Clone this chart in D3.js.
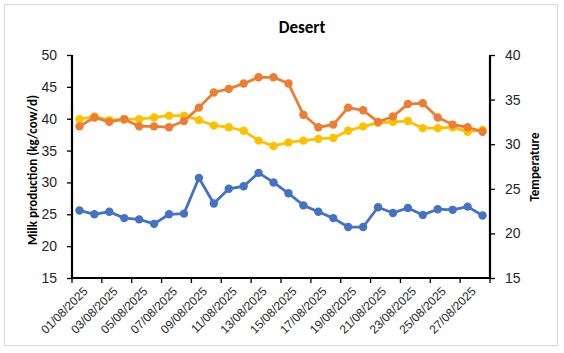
<!DOCTYPE html>
<html><head><meta charset="utf-8">
<script src="https://cdn.jsdelivr.net/npm/d3@7"></script>
<style>
html,body{margin:0;padding:0;background:#fff;}
svg{display:block;font-family:Carlito,Calibri,Lato,sans-serif;}
</style></head>
<body>
<svg id="c" width="564" height="353"></svg>
<script>
const dates = ["01/08/2025","02/08/2025","03/08/2025","04/08/2025","05/08/2025","06/08/2025","07/08/2025","08/08/2025","09/08/2025","10/08/2025","11/08/2025","12/08/2025","13/08/2025","14/08/2025","15/08/2025","16/08/2025","17/08/2025","18/08/2025","19/08/2025","20/08/2025","21/08/2025","22/08/2025","23/08/2025","24/08/2025","25/08/2025","26/08/2025","27/08/2025","28/08/2025"];
const milk = [25.6,25.0,25.4,24.4,24.2,23.5,25.0,25.1,30.7,26.7,29.0,29.4,31.5,30.0,28.3,26.4,25.4,24.4,23.0,23.0,26.1,25.2,26.0,24.9,25.8,25.7,26.2,24.8];
const tempMax = [32.0,33.0,32.5,32.8,32.0,32.0,31.9,32.6,34.1,35.8,36.2,36.8,37.5,37.5,36.8,33.3,31.9,32.2,34.1,33.8,32.5,33.1,34.5,34.6,33.0,32.2,31.9,31.4];
const tempMin = [32.8,33.1,32.7,32.8,32.8,33.0,33.2,33.2,32.7,32.1,31.9,31.5,30.4,29.8,30.2,30.4,30.6,30.7,31.5,32.0,32.4,32.5,32.6,31.8,31.8,31.9,31.4,31.6];
const leftTicks = [15,20,25,30,35,40,45,50];
const rightTicks = [15,20,25,30,35,40];

const svg = d3.select("#c");
const L = 72, R = 490, T = 55, B = 278;

svg.append("rect").attr("x",4.5).attr("y",4.5).attr("width",553).attr("height",341)
  .attr("fill","#fff").attr("stroke","#d9d9d9").attr("stroke-width",1);

const x = d3.scaleBand().domain(dates).range([L,R]).padding(0);
const yL = d3.scaleLinear().domain([15,50]).range([B,T]);
const yR = d3.scaleLinear().domain([15,40]).range([B,T]);
const cx = d => x(d) + x.bandwidth()/2;

// title
svg.append("text").attr("x",302).attr("y",33).attr("text-anchor","middle")
  .attr("font-size",17).attr("font-weight","bold").attr("fill","#000").text("Desert");

// left axis
const gL = svg.append("g").attr("transform",`translate(${L},0)`)
  .call(d3.axisLeft(yL).tickValues(leftTicks).tickSize(5).tickPadding(10));
// right axis
const gR = svg.append("g").attr("transform",`translate(${R},0)`)
  .call(d3.axisRight(yR).tickValues(rightTicks).tickSize(5).tickPadding(10));
// bottom axis
const labelDates = dates.filter((d,i)=>i%2===0);
const gB = svg.append("g").attr("transform",`translate(0,${B})`)
  .call(d3.axisBottom(x).tickValues(labelDates).tickSize(0).tickPadding(0));
gB.selectAll(".tick text").attr("text-anchor","end")
  .attr("transform","translate(3,8) rotate(-45)").attr("dy","0.71em").attr("font-size",12);
// boundary tick marks every two categories
const bTicks = dates.filter((d,i)=>i%2===0).map(d=>x(d)).concat([R]);
svg.append("g").selectAll("line").data(bTicks).join("line")
  .attr("x1",d=>d).attr("x2",d=>d).attr("y1",B).attr("y2",B+5)
  .attr("stroke","#000").attr("stroke-width",1.3);

[gL,gR,gB].forEach(g=>{
  g.selectAll(".domain").attr("stroke","#000").attr("stroke-width",2.2);
  g.selectAll(".tick line").attr("stroke","#000").attr("stroke-width",1.3);
  g.selectAll(".tick text").attr("fill","#262626");
});
gL.selectAll(".tick text").attr("font-size",14);
gR.selectAll(".tick text").attr("font-size",14);
gL.select(".domain").attr("d",`M0,${T}V${B}`);
gR.select(".domain").attr("d",`M0,${T}V${B}`);
gB.select(".domain").attr("d",`M${L},0H${R}`);

// axis titles
svg.append("text").attr("transform",`translate(37,170) rotate(-90)`).attr("text-anchor","middle")
  .attr("font-size",13).attr("font-weight","bold").attr("fill","#000").text("Milk production (kg/cow/d)");
svg.append("text").attr("transform",`translate(539,167) rotate(-90)`).attr("text-anchor","middle")
  .attr("font-size",13).attr("font-weight","bold").attr("fill","#000").text("Temperature");

function series(vals, y, color){
  const g = svg.append("g");
  const line = d3.line().x((v,i)=>cx(dates[i])).y(v=>y(v));
  g.append("path").datum(vals).attr("d",line).attr("fill","none")
    .attr("stroke",color).attr("stroke-width",2.8).attr("stroke-linejoin","round");
  g.selectAll("circle").data(vals).join("circle")
    .attr("cx",(v,i)=>cx(dates[i])).attr("cy",v=>y(v)).attr("r",4.2).attr("fill",color);
}
series(milk, yL, "#4472C4");
series(tempMin, yR, "#FFC000");
series(tempMax, yR, "#ED7D31");
</script>
</body></html>
